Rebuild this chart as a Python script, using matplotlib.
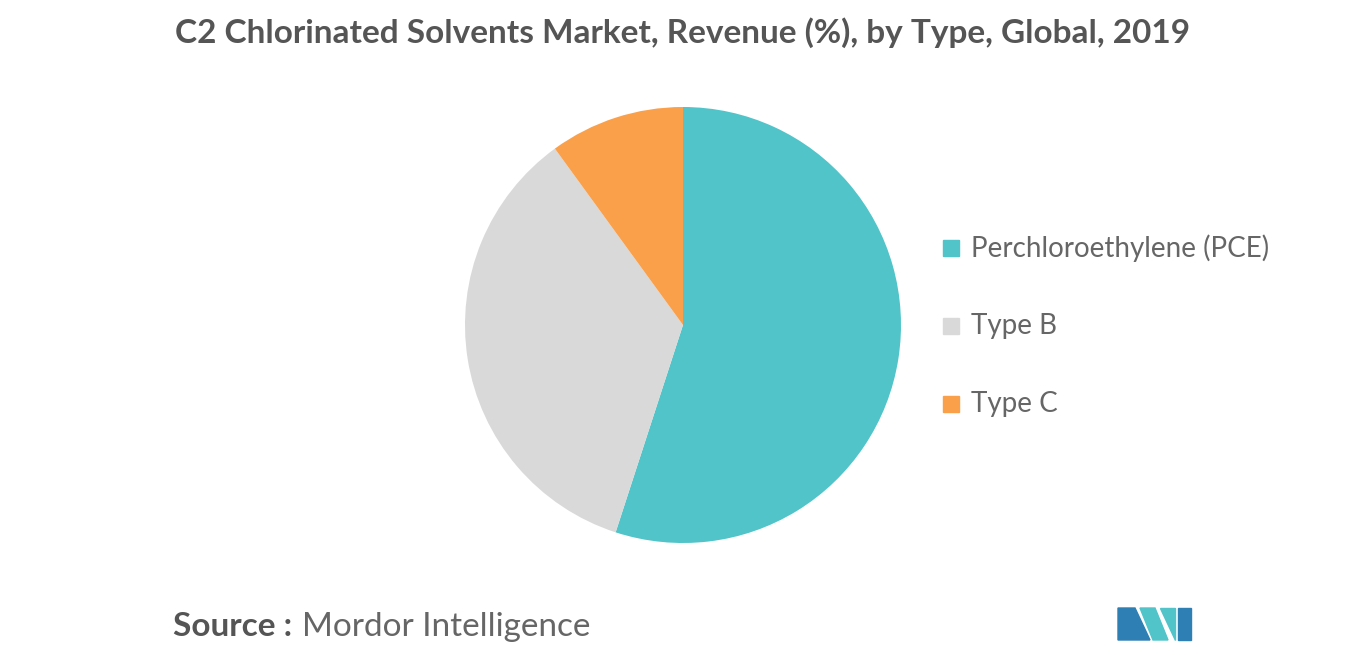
import matplotlib
matplotlib.use("Agg")
import matplotlib.pyplot as plt
from matplotlib.patches import Polygon

categories = ["Perchloroethylene (PCE)", "Type B", "Type C"]
values = [55, 35, 10]
colors = ["#50c4c9", "#d9d9d9", "#fba04a"]

fig = plt.figure(figsize=(13.66, 6.55), dpi=100)
ax = fig.add_axes([0, 0, 1, 1])
ax.set_xlim(0, 1366); ax.set_ylim(655, 0); ax.axis("off")

pax = fig.add_axes([(683-218)/1366, 1-(325+218)/655, 436/1366, 436/655])
wedges, _ = pax.pie(values, colors=colors, startangle=90, counterclock=False,
                    wedgeprops=dict(linewidth=0))
pax.set_xlim(-1, 1); pax.set_ylim(-1, 1)
pax.set_aspect("equal")

fig.text(683/1366, 1-33/655, "C2 Chlorinated Solvents Market, Revenue (%), by Type, Global, 2019",
         ha="center", va="center", fontsize=24, color="#555555", fontweight="bold", family="Lato")

for i, (c, col) in enumerate(zip(categories, colors)):
    y = 248 + i*78
    ax.add_patch(plt.Rectangle((943, y-8), 16, 16, color=col))
    ax.text(971, y, c, va="center", ha="left", fontsize=20, color="#666666", family="Lato")

ax.text(173, 627, "Source :", va="center", ha="left", fontsize=24, color="#555555", fontweight="bold", family="Lato")
ax.text(302, 627, "Mordor Intelligence", va="center", ha="left", fontsize=24, color="#666666", family="Lato")

# logo
ax.add_patch(Polygon([(1118,640),(1118,608),(1135,608),(1150,640)], color="#2e7fb3"))
ax.add_patch(Polygon([(1140,608),(1155,608),(1168,640),(1153,640)], color="#50c4c9"))
ax.add_patch(Polygon([(1160,608),(1175,608),(1175,640)], color="#50c4c9"))
ax.add_patch(Polygon([(1178,608),(1191,608),(1191,640),(1178,640)], color="#2e7fb3"))

fig.savefig("out.png", dpi=100)
